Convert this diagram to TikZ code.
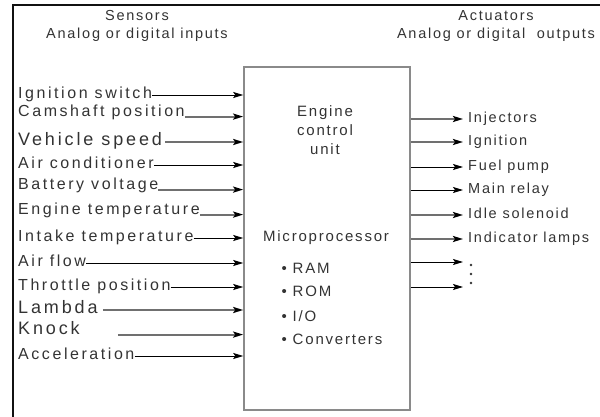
\documentclass[tikz,border=0pt]{standalone}
\usepackage{fontspec}
\setmainfont{Liberation Sans}
\newfontfamily\diagfont{Liberation Sans}[LetterSpace=12]
\newfontfamily\widefont{Liberation Sans}[LetterSpace=16]
\usetikzlibrary{arrows.meta}
\definecolor{ink}{HTML}{333333}
\definecolor{frameline}{HTML}{111111}
\definecolor{boxline}{HTML}{8A8A8A}
\definecolor{wire}{HTML}{707070}
\tikzset{
    headlabel/.style={
        font=\diagfont\fontsize{14.5}{18}\selectfont,
        text=ink,
        align=center
    },
    sensorlabel/.style={
        font=\widefont\fontsize{16}{18}\selectfont,
        text=ink,
        anchor=west,
        inner sep=0pt,
        text height=0.72em,
        text depth=0pt
    },
    biglabel/.style={
        sensorlabel,
        font=\widefont\fontsize{18}{20}\selectfont
    },
    actuatorlabel/.style={
        font=\diagfont\fontsize{14.5}{16}\selectfont,
        text=ink,
        anchor=west,
        inner xsep=5pt,
        inner ysep=0pt,
        text height=0.72em,
        text depth=0pt
    },
    ecutext/.style={
        font=\diagfont\fontsize{15}{19}\selectfont,
        text=ink,
        align=center
    },
    ecubox/.style={
        draw=boxline,
        line width=1.6pt,
        minimum width=166pt,
        minimum height=343pt,
        inner sep=0pt
    },
    thinarrow/.style={
        -{Stealth[length=10pt,width=6pt,inset=2pt]},
        draw=black,
        line width=0.9pt
    },
    thickarrow/.style={
        -{Stealth[length=10pt,width=6pt,inset=2pt,color=black]},
        draw=wire,
        line width=2pt
    }
}
\begin{document}
\begin{tikzpicture}[x=1pt,y=-1pt]
    \useasboundingbox (0,0) rectangle (600,417);

    % Outer frame
    \draw[frameline, line width=1.5pt] (13,417) -- (13,5) -- (600,5);

    % Headings
    \node[headlabel] (sensors) at (137,26) {Sensors\\Analog or digital inputs};
    \node[headlabel] (actuators) at (496,26) {Actuators\\Analog or digital\ \ outputs};

    % Engine control unit
    \node[ecubox] (ecu) at (327,238.5) {};
    \node[ecutext] (ecu-title) at (325,130) {Engine\\control\\unit};
    \node[ecutext] (micro) at (326,238) {Microprocessor};
    \node[ecutext, anchor=west] (ram) at (278,268) {• RAM};
    \node[ecutext, anchor=west] (rom) at (278,291) {• ROM};
    \node[ecutext, anchor=west] (io) at (278,316) {• I/O};
    \node[ecutext, anchor=west] (conv) at (278,339) {• Converters};

    % Sensor inputs
    \node[sensorlabel] (in-1) at (18,95) {Ignition switch};
    \node[sensorlabel] (in-2) at (18,113) {Camshaft position};
    \node[biglabel] (in-3) at (18,142) {Vehicle speed};
    \node[sensorlabel] (in-4) at (18,165) {Air conditioner};
    \node[sensorlabel] (in-5) at (18,186) {Battery voltage};
    \node[sensorlabel] (in-6) at (18,211) {Engine temperature};
    \node[sensorlabel] (in-7) at (18,238) {Intake temperature};
    \node[sensorlabel] (in-8) at (18,263) {Air flow};
    \node[sensorlabel] (in-9) at (18,287) {Throttle position};
    \node[biglabel] (in-10) at (18,310) {Lambda};
    \node[biglabel] (in-11) at (18,331) {Knock};
    \node[sensorlabel] (in-12) at (18,356) {Acceleration};

    \draw[thinarrow] (in-1.east) -- (in-1.east -| ecu.west);
    \draw[thickarrow] (in-2.base east) -- (in-2.base east -| ecu.west);
    \draw[thickarrow] ([xshift=3pt]in-3.east) -- (in-3.east -| ecu.west);
    \draw[thinarrow] (in-4.east) -- (in-4.east -| ecu.west);
    \draw[thickarrow] (in-5.base east) -- (in-5.base east -| ecu.west);
    \draw[thickarrow] (in-6.base east) -- (in-6.base east -| ecu.west);
    \draw[thinarrow] (in-7.east) -- (in-7.east -| ecu.west);
    \draw[thinarrow] (in-8.east) -- (in-8.east -| ecu.west);
    \draw[thinarrow] (in-9.east) -- (in-9.east -| ecu.west);
    \draw[thickarrow] ([xshift=5pt]in-10.east) -- (in-10.east -| ecu.west);
    \draw[thickarrow] ([xshift=38pt]in-11.base east) -- (in-11.base east -| ecu.west);
    \draw[thinarrow] (in-12.east) -- (in-12.east -| ecu.west);

    % Actuator outputs
    \node[actuatorlabel] (out-1) at (463,119) {Injectors};
    \node[actuatorlabel] (out-2) at (463,142) {Ignition};
    \node[actuatorlabel] (out-3) at (463,167) {Fuel pump};
    \node[actuatorlabel] (out-4) at (463,190) {Main relay};
    \node[actuatorlabel] (out-5) at (463,215) {Idle solenoid};
    \node[actuatorlabel] (out-6) at (463,239) {Indicator lamps};
    \coordinate (out-7) at (463,262);
    \coordinate (out-8) at (463,287);

    \draw[thickarrow] (ecu.east |- out-1.west) -- (out-1.west);
    \draw[thickarrow] (ecu.east |- out-2.west) -- (out-2.west);
    \draw[thinarrow] (ecu.east |- out-3.west) -- (out-3.west);
    \draw[thinarrow] (ecu.east |- out-4.west) -- (out-4.west);
    \draw[thickarrow] (ecu.east |- out-5.west) -- (out-5.west);
    \draw[thickarrow] (ecu.east |- out-6.west) -- (out-6.west);
    \draw[thinarrow] (ecu.east |- out-7) -- (out-7);
    \draw[thinarrow] (ecu.east |- out-8) -- (out-8);

    % More outputs
    \foreach \dy in {265,274,283} {
        \fill[ink] (471,\dy) circle[radius=1.3];
    }

\end{tikzpicture}
\end{document}
